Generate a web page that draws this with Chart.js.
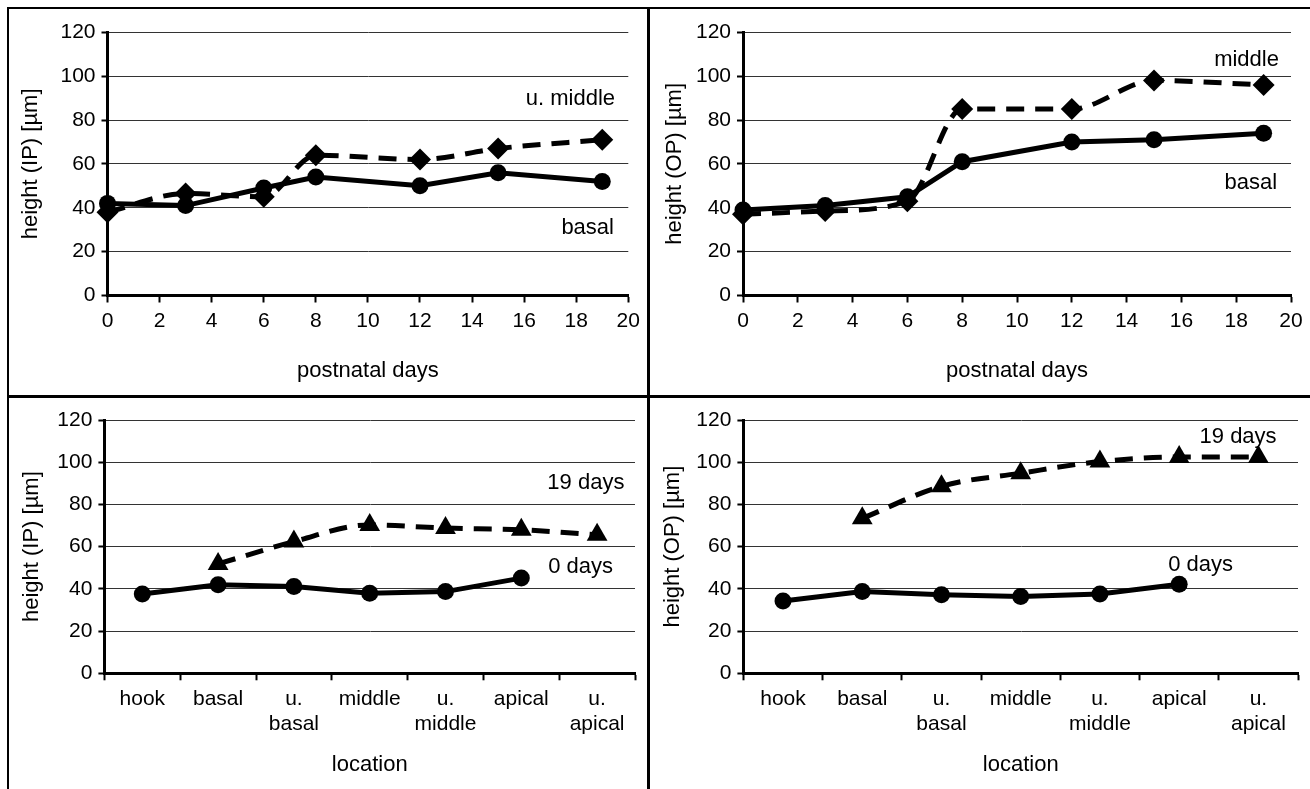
<!DOCTYPE html>
<html>
<head>
<meta charset="utf-8">
<script src="https://cdn.jsdelivr.net/npm/chart.js@4.4.1/dist/chart.umd.min.js"></script>
<style>
  html, body { margin: 0; padding: 0; background: #fff; }
  body { width: 1310px; height: 789px; position: relative; overflow: hidden; }
  canvas { position: absolute; }
  .ln { position: absolute; background: #000; }
</style>
</head>
<body>
<div class="ln" style="left:7px;top:7px;width:1303px;height:2px"></div>
<div class="ln" style="left:7px;top:7px;width:2px;height:782px"></div>
<div class="ln" style="left:647px;top:7px;width:3px;height:782px"></div>
<div class="ln" style="left:7px;top:395px;width:1303px;height:3px"></div>

<canvas id="cTL" width="637" height="385" style="left:10px;top:10px"></canvas>
<canvas id="cTR" width="659" height="385" style="left:651px;top:10px"></canvas>
<canvas id="cBL" width="637" height="390" style="left:10px;top:399px"></canvas>
<canvas id="cBR" width="659" height="390" style="left:651px;top:399px"></canvas>

<script>
// ---------- data ----------
const days = [0, 3, 6, 8, 12, 15, 19];
const ipBasal   = [42, 41, 49, 54, 50, 56, 52];
const ipUMiddle = [38, 46.5, 45, 64, 62, 67, 71];
const opBasal   = [39, 41, 45, 61, 70, 71, 74];
const opMiddle  = [37, 38.5, 43, 85, 85, 98, 96];

const locations = [['hook'], ['basal'], ['u.', 'basal'], ['middle'], ['u.', 'middle'], ['apical'], ['u.', 'apical']];
const ip0days  = [37.6, 41.9, 41.1, 37.9, 38.7, 45.1, null];
const ip19days = [null, 51.8, 62.4, 70.3, 68.8, 68, 65.6];
const op0days  = [34.3, 38.7, 37.2, 36.4, 37.6, 42.2, null];
const op19days = [null, 73.4, 88.6, 94.8, 100.3, 102.5, 102.5];

const dayTicks = [0, 2, 4, 6, 8, 10, 12, 14, 16, 18, 20];
const heightTicks = [0, 20, 40, 60, 80, 100, 120];

// ---------- styling helpers ----------
const FONT = '"Liberation Sans", Arial, Helvetica, sans-serif';
Chart.defaults.font.family = FONT;
Chart.defaults.color = '#000';

const toXY = (xs, ys) => xs.map((x, i) => ({ x: x, y: ys[i] }));

function solidSet(data, style) {
  return {
    data, borderColor: '#000', backgroundColor: '#000', borderWidth: 5,
    pointStyle: style, pointRadius: 8.5, pointBorderWidth: 0,
    pointBackgroundColor: '#000', tension: 0, clip: false, spanGaps: true
  };
}
function dashedSet(data, style) {
  return {
    data, borderColor: '#000', backgroundColor: '#000', borderWidth: 5,
    borderDash: [18, 11], pointStyle: style, pointRadius: style === 'triangle' ? 12 : 11,
    pointBorderWidth: 0, pointBackgroundColor: '#000',
    cubicInterpolationMode: 'monotone', clip: false, spanGaps: true
  };
}

const seriesLabels = {
  id: 'seriesLabels',
  afterDatasetsDraw(chart, args, opts) {
    const { ctx, scales } = chart;
    ctx.save();
    ctx.font = '22px ' + FONT;
    ctx.fillStyle = '#000';
    ctx.textAlign = 'right';
    ctx.textBaseline = 'middle';
    (opts.items || []).forEach(it => {
      ctx.fillText(it.text, scales.x.getPixelForValue(it.x), scales.y.getPixelForValue(it.y));
    });
    ctx.restore();
  }
};

function yScale(title, width, titlePad) {
  return {
    min: 0, max: 120,
    afterBuildTicks: s => { s.ticks = heightTicks.map(v => ({ value: v })); },
    ticks: { font: { size: 21 }, color: '#000', padding: 6 },
    grid: { color: '#333', lineWidth: 1, tickColor: '#000', tickWidth: 2, tickLength: 6 },
    border: { color: '#000', width: 3 },
    title: { display: true, text: title, font: { size: 22 }, color: '#000', padding: { top: titlePad, bottom: 0 } },
    afterFit: s => { s.width = width; }
  };
}

function makeDaysChart(id, title, basal, upper, labels, dims) {
  new Chart(document.getElementById(id), {
    type: 'line',
    data: { datasets: [dashedSet(toXY(days, upper), 'rectRot'), solidSet(toXY(days, basal), 'circle')] },
    options: {
      responsive: false, animation: false,
      layout: { padding: { top: dims.top, right: dims.right, left: 0, bottom: 0 } },
      plugins: { legend: { display: false }, tooltip: { enabled: false }, seriesLabels: { items: labels } },
      scales: {
        x: {
          type: 'linear', min: 0, max: 20,
          afterBuildTicks: s => { s.ticks = dayTicks.map(v => ({ value: v })); },
          ticks: { font: { size: 21 }, color: '#000', padding: 6, maxRotation: 0, autoSkip: false },
          grid: { drawOnChartArea: false, tickColor: '#000', tickWidth: 2, tickLength: 7 },
          border: { color: '#000', width: 3 },
          title: { display: true, text: 'postnatal days', font: { size: 22 }, color: '#000', padding: { top: 0, bottom: 11 } },
          afterFit: s => { s.height = dims.xh; }
        },
        y: yScale(title, dims.yw, dims.tp)
      }
    },
    plugins: [seriesLabels]
  });
}

function makeLocChart(id, title, d0, d19, labels, dims) {
  new Chart(document.getElementById(id), {
    type: 'line',
    data: { labels: locations, datasets: [dashedSet(d19, 'triangle'), solidSet(d0, 'circle')] },
    options: {
      responsive: false, animation: false,
      layout: { padding: { top: dims.top, right: dims.right, left: 0, bottom: 0 } },
      plugins: { legend: { display: false }, tooltip: { enabled: false }, seriesLabels: { items: labels } },
      scales: {
        x: {
          type: 'category', offset: true,
          ticks: { font: { size: 21 }, color: '#000', padding: 6, maxRotation: 0, autoSkip: false },
          grid: { offset: true, drawOnChartArea: false, tickColor: '#000', tickWidth: 2, tickLength: 7 },
          border: { color: '#000', width: 3 },
          title: { display: true, text: 'location', font: { size: 22 }, color: '#000', padding: { top: 0, bottom: 11 } },
          afterFit: s => { s.height = dims.xh; }
        },
        y: yScale(title, dims.yw, dims.tp)
      }
    },
    plugins: [seriesLabels]
  });
}

makeDaysChart('cTL', 'height (IP) [µm]', ipBasal, ipUMiddle,
  [{ text: 'u. middle', x: 19.49, y: 89.5 }, { text: 'basal', x: 19.45, y: 30.7 }],
  { top: 22.3, right: 18.7, xh: 99.5, yw: 97.5, tp: 7.3 });

makeDaysChart('cTR', 'height (OP) [µm]', opBasal, opMiddle,
  [{ text: 'middle', x: 19.56, y: 107.5 }, { text: 'basal', x: 19.49, y: 51.2 }],
  { top: 22.3, right: 19, xh: 99.5, yw: 92, tp: 10.8 });

makeLocChart('cBL', 'height (IP) [µm]', ip0days, ip19days,
  [{ text: '19 days', x: 6.36, y: 90.1 }, { text: '0 days', x: 6.21, y: 50.5 }],
  { top: 21, right: 5.2, xh: 115.7, yw: 94.4, tp: 8.3 });

makeLocChart('cBR', 'height (OP) [µm]', op0days, op19days,
  [{ text: '19 days', x: 6.23, y: 111.9 }, { text: '0 days', x: 5.68, y: 51.3 }],
  { top: 21, right: 5, xh: 115.7, yw: 92.4, tp: 8.8 });
</script>
</body>
</html>
